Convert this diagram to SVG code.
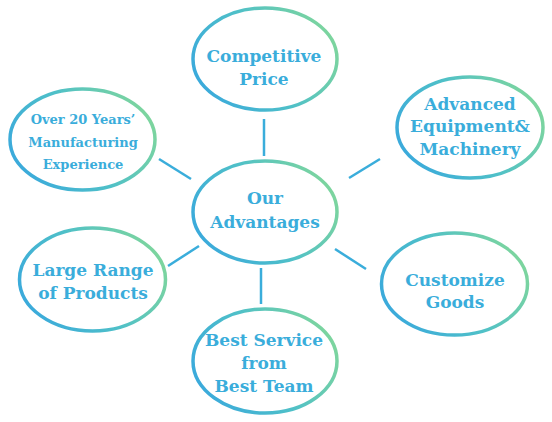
<svg xmlns="http://www.w3.org/2000/svg" width="552" height="422" viewBox="0 0 552 422">
<defs>
<linearGradient id="g" x1="0" y1="0.7" x2="1" y2="0.3">
<stop offset="0" stop-color="#3aa9dc"/>
<stop offset="0.5" stop-color="#4fc0c8"/>
<stop offset="1" stop-color="#7fd69c"/>
</linearGradient>
<style>
.e{fill:#fff;stroke:url(#g);stroke-width:3.5}
.t{font-family:"DejaVu Serif","Liberation Serif",serif;font-weight:bold;fill:#3aaddb;text-anchor:middle;font-size:17px}
.s{font-size:13px}
.c line{stroke:#3aaddb;stroke-width:2.5}
</style>
</defs>
<rect width="552" height="422" fill="#fff"/>
<g class="c" id="connectors">
<line x1="264" y1="119" x2="264" y2="156"/>
<line x1="159" y1="159" x2="191" y2="179"/>
<line x1="349" y1="178" x2="380" y2="159"/>
<line x1="168" y1="266" x2="199" y2="246"/>
<line x1="261" y1="268" x2="261" y2="304"/>
<line x1="335" y1="249" x2="366" y2="269"/>
</g>
<g id="price"><ellipse class="e" cx="265" cy="59" rx="72" ry="51"/>
<text class="t" x="264" y="62">Competitive</text><text class="t" x="264" y="85">Price</text></g>
<g id="years"><ellipse class="e" cx="82.5" cy="139.5" rx="72.5" ry="50.5"/>
<text class="t s" x="83" y="124">Over 20 Years’</text><text class="t s" x="83" y="147">Manufacturing</text><text class="t s" x="83" y="169">Experience</text></g>
<g id="equipment"><ellipse class="e" cx="470" cy="127.5" rx="73" ry="50.5"/>
<text class="t" x="470" y="110">Advanced</text><text class="t" x="470" y="132">Equipment&amp;</text><text class="t" x="470" y="155">Machinery</text></g>
<g id="advantages"><ellipse class="e" cx="265" cy="212" rx="72" ry="51"/>
<text class="t" x="265" y="204">Our</text><text class="t" x="265" y="228">Advantages</text></g>
<g id="range"><ellipse class="e" cx="92.5" cy="279.5" rx="73" ry="51.5"/>
<text class="t" x="93" y="276">Large Range</text><text class="t" x="93" y="299">of Products</text></g>
<g id="service"><ellipse class="e" cx="265" cy="361" rx="72" ry="52"/>
<text class="t" x="264" y="346">Best Service</text><text class="t" x="264" y="369">from</text><text class="t" x="264" y="392">Best Team</text></g>
<g id="customize"><ellipse class="e" cx="454.5" cy="284" rx="73" ry="51"/>
<text class="t" x="455" y="286">Customize</text><text class="t" x="455" y="308">Goods</text></g>
</svg>
